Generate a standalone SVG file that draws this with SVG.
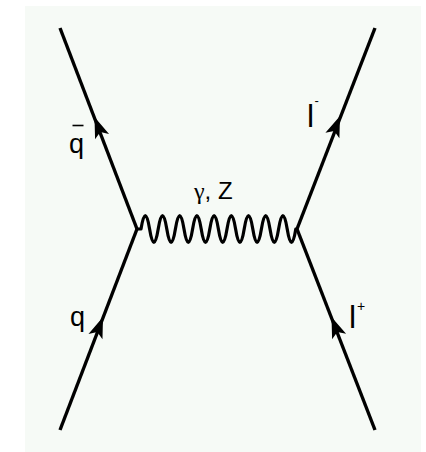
<svg xmlns="http://www.w3.org/2000/svg" xmlns:xlink="http://www.w3.org/1999/xlink" width="426" height="452" viewBox="0 0 426 452">
  <style>
    .fermion { stroke: #000; stroke-width: 3.4; fill: none; stroke-linecap: butt; }
    .boson { stroke: #000; stroke-width: 3.2; fill: none; stroke-linejoin: round; }
    .lbl { font-family: "Liberation Sans", Arial, sans-serif; fill: #000; }
    .arrow { fill: #000; }
  </style>
  <defs>
    <path id="arrowhead" class="arrow" d="M0,0 L-21,-7.5 L-16,0 L-21,7.5 Z"/>
  </defs>
  <rect x="0" y="0" width="426" height="452" fill="#ffffff"/>
  <rect x="25" y="6" width="396" height="446" fill="#f6faf6"/>

  <g id="connectors">
    <line id="qbar-line" class="fermion" x1="60" y1="28" x2="137" y2="229"/>
    <line id="q-line" class="fermion" x1="60" y1="430" x2="137" y2="229"/>
    <line id="lminus-line" class="fermion" x1="375" y1="28" x2="297" y2="229"/>
    <line id="lplus-line" class="fermion" x1="375" y1="430" x2="297" y2="229"/>
    <path id="gammaZ-line" class="boson" d="M137,229 L141,229 q4.3,-27 8.6,0 t8.6,0 t8.6,0 t8.6,0 t8.6,0 t8.6,0 t8.6,0 t8.6,0 t8.6,0 t8.6,0 t8.6,0 t8.6,0 t8.6,0 t8.6,0 t8.6,0 t8.6,0 t8.6,0 t8.6,0 L297,229"/>
    <use xlink:href="#arrowhead" transform="translate(94.5,117) rotate(-111.1)"/>
    <use xlink:href="#arrowhead" transform="translate(103,317) rotate(-69)"/>
    <use xlink:href="#arrowhead" transform="translate(340,116) rotate(-68.8)"/>
    <use xlink:href="#arrowhead" transform="translate(331.5,317) rotate(-111.2)"/>
  </g>

  <g id="label-qbar">
    <text class="lbl" x="69" y="153" font-size="27">q</text>
    <line x1="72.5" y1="125.5" x2="83.5" y2="125.5" stroke="#000" stroke-width="1.6"/>
  </g>
  <g id="label-q">
    <text class="lbl" x="70" y="326" font-size="27">q</text>
  </g>
  <g id="label-gammaZ">
    <text class="lbl" x="194" y="199" font-size="24"><tspan font-family="'Liberation Serif', 'Times New Roman', serif">γ</tspan>, Z</text>
  </g>
  <g id="label-lminus">
    <text class="lbl" x="307" y="127" font-size="32">l<tspan font-size="13" dx="0.5" dy="-22">-</tspan></text>
  </g>
  <g id="label-lplus">
    <text class="lbl" x="349" y="328" font-size="32">l<tspan font-size="14" dx="1" dy="-17">+</tspan></text>
  </g>
</svg>
